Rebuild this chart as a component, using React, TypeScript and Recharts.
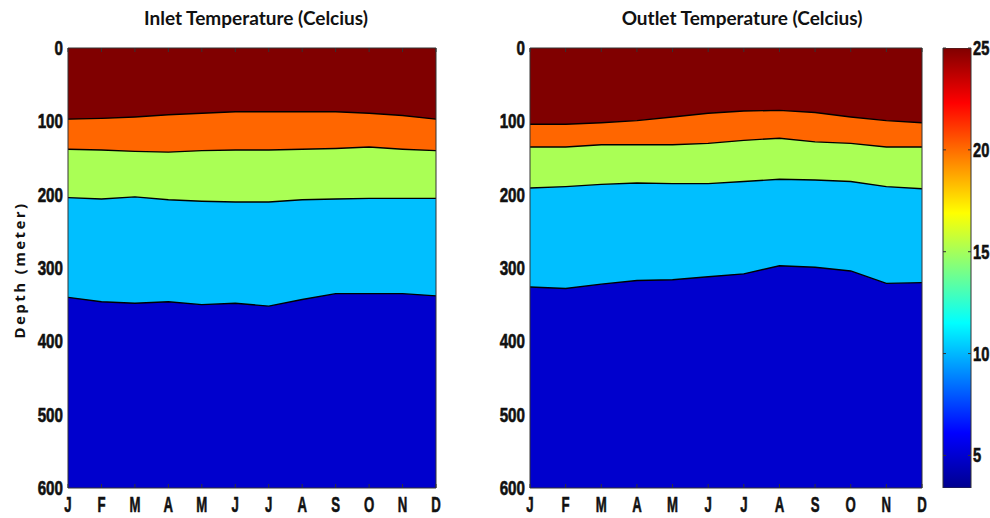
import React from "react";
import { AreaChart, Area, XAxis, YAxis, CartesianGrid, BarChart, Bar } from "recharts";

const months = ["J", "F", "M", "A", "M", "J", "J", "A", "S", "O", "N", "D"];
const monthIdx = months.map((_, i) => i);
const depthTicks = [0, 100, 200, 300, 400, 500, 600];

// contour boundaries, depth in meters (top to bottom)
const inlet25to20 = [97, 96, 94, 91, 89, 87, 87, 87, 87, 89, 92, 97];
const inlet20to15 = [138, 139, 141, 142, 140, 139, 139, 138, 137, 135, 138, 140];
const inlet15to10 = [204, 206, 203, 207, 209, 210, 210, 207, 206, 205, 205, 205];
const inlet10to5 = [340, 346, 348, 346, 350, 348, 352, 343, 335, 335, 335, 338];

const outlet25to20 = [104, 104, 102, 99, 94, 89, 86, 85, 88, 94, 99, 102];
const outlet20to15 = [135, 135, 132, 132, 132, 130, 126, 123, 128, 130, 135, 135];
const outlet15to10 = [191, 189, 186, 184, 185, 185, 182, 179, 180, 182, 189, 192];
const outlet10to5 = [326, 328, 322, 317, 316, 312, 308, 297, 299, 304, 321, 320];

const bandColors = ["#ff6600", "#aaff55", "#00bfff", "#0000cd"];
const topColor = "#800000";

const colorRange = [3.4, 25];
const colorTicks = [5, 10, 15, 20, 25];

const tickFont = "'Liberation Sans', Arial, sans-serif";
const frame = "#333";

const toRows = (b: number[][]) =>
  months.map((m, i) => ({ x: i, m, b1: b[0][i], b2: b[1][i], b3: b[2][i], b4: b[3][i] }));

const inletRows = toRows([inlet25to20, inlet20to15, inlet15to10, inlet10to5]);
const outletRows = toRows([outlet25to20, outlet20to15, outlet15to10, outlet10to5]);

// heavy condensed tick text (squeezed horizontally)
const NarrowTick = (props: any) => {
  const { x, y, payload, anchor, size, squeeze, dy, fmt } = props;
  const label = fmt ? fmt(payload.value) : String(payload.value);
  return (
    <g transform={`translate(${x},${y}) scale(${squeeze},1)`}>
      <text
        x={0}
        y={0}
        dy={dy}
        textAnchor={anchor}
        style={{ fontFamily: tickFont, fontWeight: 700, fontSize: size, fill: "#111", stroke: "#111", strokeWidth: 0.6 }}
      >
        {label}
      </text>
    </g>
  );
};

const DepthLabel = (props: any) => {
  const { viewBox } = props;
  const cx = viewBox.x + 19;
  const cy = viewBox.y + viewBox.height / 2 + 2;
  return (
    <text
      x={cx}
      y={cy}
      transform={`rotate(-90 ${cx} ${cy})`}
      textAnchor="middle"
      dominantBaseline="central"
      style={{ fontFamily: "'Open Sans', sans-serif", fontWeight: 700, fontSize: 15, letterSpacing: 2.4, fill: "#111" }}
    >
      Depth (meter)
    </text>
  );
};

function Panel({ rows, width, right, withLabel }: { rows: any[]; width: number; right: number; withLabel: boolean }) {
  const blank = () => "";
  return (
    <AreaChart width={width} height={518} data={rows} margin={{ top: 48, right, bottom: 0, left: 0 }}>
      <CartesianGrid xAxisId="b" yAxisId="l" horizontal={false} vertical={false} fill={topColor} />
      <XAxis
        xAxisId="b"
        dataKey="x"
        type="number"
        domain={[0, 11]}
        ticks={monthIdx}
        interval={0}
        height={30}
        tickLine={false}
        tickSize={0}
        tickMargin={9}
        axisLine={{ stroke: frame }}
        tick={(p: any) => <NarrowTick {...p} anchor="middle" size={22} squeeze={0.6} dy={15} fmt={(i: number) => months[i]} />}
      />
      <XAxis xAxisId="bt" dataKey="x" type="number" domain={[0, 11]} ticks={monthIdx} interval={0} mirror tickSize={4} tickFormatter={blank} axisLine={false} tickLine={{ stroke: frame }} />
      <XAxis xAxisId="t" dataKey="x" type="number" orientation="top" domain={[0, 11]} ticks={monthIdx} interval={0} mirror tickSize={4} tickFormatter={blank} axisLine={{ stroke: frame }} tickLine={{ stroke: frame }} />
      <YAxis
        yAxisId="l"
        type="number"
        reversed
        domain={[0, 600]}
        ticks={depthTicks}
        interval={0}
        width={68}
        tickLine={false}
        tickSize={0}
        tickMargin={5}
        axisLine={{ stroke: frame }}
        tick={(p: any) => <NarrowTick {...p} anchor="end" size={20} squeeze={0.76} dy={7} />}
        label={withLabel ? <DepthLabel /> : undefined}
      />
      <YAxis yAxisId="lt" type="number" reversed domain={[0, 600]} ticks={depthTicks} interval={0} mirror tickSize={4} tickFormatter={blank} axisLine={false} tickLine={{ stroke: frame }} />
      <YAxis yAxisId="r" type="number" orientation="right" reversed domain={[0, 600]} ticks={depthTicks} interval={0} mirror tickSize={4} tickFormatter={blank} axisLine={{ stroke: frame }} tickLine={{ stroke: frame }} />
      {["b1", "b2", "b3", "b4"].map((k, i) => (
        <Area
          key={k}
          xAxisId="b"
          yAxisId="l"
          dataKey={k}
          type="linear"
          baseValue={600}
          fill={bandColors[i]}
          fillOpacity={1}
          stroke="#000"
          strokeWidth={1.4}
          dot={false}
          activeDot={false}
          isAnimationActive={false}
        />
      ))}
    </AreaChart>
  );
}

function ColorBar() {
  const data = [{ name: "cb", range: colorRange }];
  const blank = () => "";
  return (
    <BarChart width={60} height={518} data={data} margin={{ top: 48, right: 0, bottom: 30, left: 13 }} barCategoryGap={0}>
      <defs>
        <linearGradient id="jet" x1="0" y1="1" x2="0" y2="0">
          <stop offset="0" stopColor="#00008f" />
          <stop offset="0.125" stopColor="#0000ff" />
          <stop offset="0.375" stopColor="#00ffff" />
          <stop offset="0.625" stopColor="#ffff00" />
          <stop offset="0.875" stopColor="#ff0000" />
          <stop offset="1" stopColor="#800000" />
        </linearGradient>
      </defs>
      <XAxis dataKey="name" hide />
      <YAxis
        yAxisId="r"
        orientation="right"
        type="number"
        domain={colorRange}
        allowDataOverflow
        ticks={colorTicks}
        interval={0}
        width={19}
        tickLine={false}
        tickSize={0}
        tickMargin={2}
        axisLine={false}
        tick={(p: any) => <NarrowTick {...p} anchor="start" size={21} squeeze={0.7} dy={7} />}
      />
      <YAxis yAxisId="rt" orientation="right" type="number" domain={colorRange} allowDataOverflow ticks={colorTicks} interval={0} mirror tickSize={3} tickFormatter={blank} axisLine={false} tickLine={{ stroke: frame }} />
      <YAxis yAxisId="lt" orientation="left" type="number" domain={colorRange} allowDataOverflow ticks={colorTicks} interval={0} mirror tickSize={3} tickFormatter={blank} axisLine={false} tickLine={{ stroke: frame }} />
      <Bar yAxisId="r" dataKey="range" fill="url(#jet)" stroke={frame} strokeWidth={1} isAnimationActive={false} />
    </BarChart>
  );
}

const titleStyle: React.CSSProperties = {
  position: "absolute",
  top: 6,
  fontFamily: "Lato, 'Open Sans', sans-serif",
  fontWeight: 700,
  fontSize: 19,
  color: "#111",
  whiteSpace: "nowrap",
  transform: "translateX(-50%)",
};

export default function App() {
  return (
    <div style={{ position: "absolute", left: 0, top: 0, width: 990, height: 518, background: "#fff", overflow: "hidden" }}>
      <div style={{ ...titleStyle, left: 256 }}>Inlet Temperature (Celcius)</div>
      <div style={{ ...titleStyle, left: 742 }}>Outlet Temperature (Celcius)</div>
      <div style={{ position: "absolute", left: 0, top: 0 }}>
        <Panel rows={inletRows} width={450} right={14} withLabel />
      </div>
      <div style={{ position: "absolute", left: 462, top: 0 }}>
        <Panel rows={outletRows} width={470} right={10} withLabel={false} />
      </div>
      <div style={{ position: "absolute", left: 930, top: 0 }}>
        <ColorBar />
      </div>
    </div>
  );
}
